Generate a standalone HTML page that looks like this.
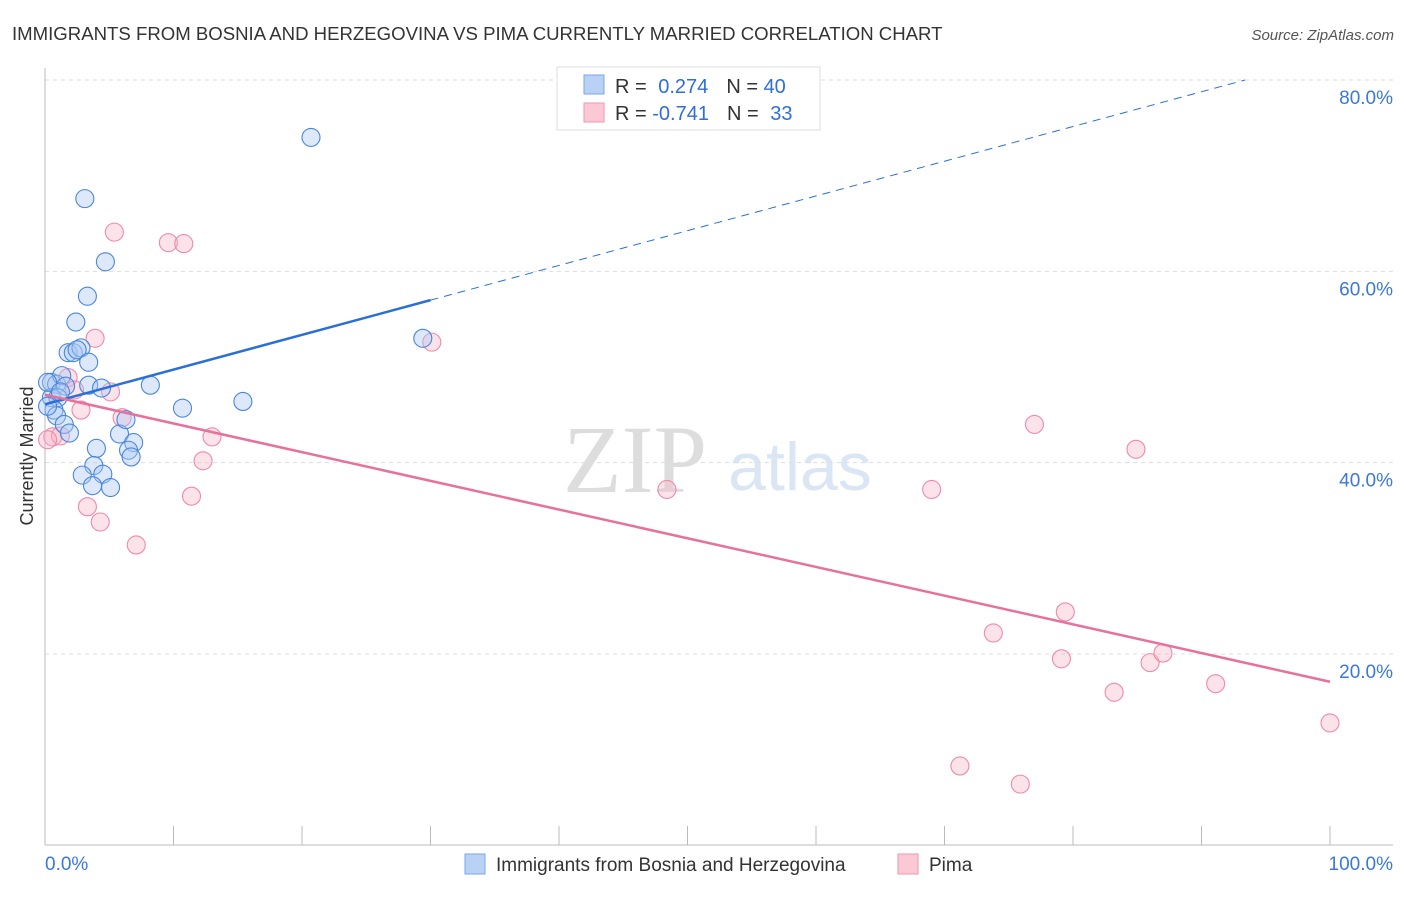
<!DOCTYPE html>
<html><head><meta charset="utf-8"><style>
body{margin:0;background:#fff;font-family:"Liberation Sans",sans-serif}
svg text{font-family:"Liberation Sans",sans-serif}
</style></head><body>
<svg id="c" width="1406" height="892" xmlns="http://www.w3.org/2000/svg">
<text x="12" y="40" font-size="18.6" fill="#333">IMMIGRANTS FROM BOSNIA AND HERZEGOVINA VS PIMA CURRENTLY MARRIED CORRELATION CHART</text>
<text x="1394" y="40" font-size="15" fill="#555" font-style="italic" text-anchor="end">Source: ZipAtlas.com</text>
<text x="635" y="492" font-size="96" fill="#ddd" text-anchor="middle" style="font-family:'Liberation Serif',serif">ZIP</text>
<text x="800" y="490" font-size="68" fill="#dbe6f5" text-anchor="middle">atlas</text>
<g id="grid"></g><g id="marks"></g>
<text transform="translate(33,456) rotate(-90)" font-size="18" fill="#333" text-anchor="middle">Currently Married</text>
<g>
<rect x="557" y="67" width="263" height="63" fill="#fff" stroke="#ddd"/>
<rect x="584" y="75" width="20" height="19" fill="#b8d1f5" stroke="#7aa7e8"/>
<rect x="584" y="103" width="20" height="19" fill="#fbc8d6" stroke="#f096b2"/>
<text x="615" y="93" font-size="20" fill="#333">R = <tspan fill="#2f6fd6" dx="6">0.274</tspan><tspan dx="18" fill="#333">N = </tspan><tspan fill="#2f6fd6">40</tspan></text>
<text x="615" y="120" font-size="20" fill="#333">R = <tspan fill="#2f6fd6">-0.741</tspan><tspan dx="18" fill="#333">N = </tspan><tspan fill="#2f6fd6" dx="6">33</tspan></text>
</g>
<g>
<rect x="465" y="854" width="20" height="20" fill="#b8d1f5" stroke="#7aa7e8"/>
<text x="496" y="871" font-size="19" fill="#333">Immigrants from Bosnia and Herzegovina</text>
<rect x="898" y="854" width="20" height="20" fill="#fbc8d6" stroke="#f096b2"/>
<text x="929" y="871" font-size="19" fill="#333">Pima</text>
</g>
</svg>
<script>
const yTicks=[20,40,60,80];
const yTickLabels=["20.0%","40.0%","60.0%","80.0%"];
const xTicks=[0,10,20,30,40,50,60,70,80,90,100];
const blueX=[20.7,3.1,4.7,3.3,2.4,1.8,2.2,2.8,2.5,3.4,0.5,0.9,1.3,1.6,3.4,4.4,8.2,10.7,15.4,29.4,0.5,1.0,0.7,0.9,1.5,1.9,0.2,5.8,6.3,6.9,4.0,6.5,6.7,3.8,2.9,4.5,3.7,5.1,0.2,1.2];
const blueY=[74.0,67.6,61.0,57.4,54.7,51.5,51.5,52.0,51.8,50.5,48.4,48.2,49.1,48.0,48.1,47.8,48.1,45.7,46.4,53.0,46.8,46.8,45.5,44.9,44.0,43.1,45.9,43.0,44.5,42.1,41.5,41.3,40.6,39.7,38.7,38.8,37.6,37.4,48.4,47.4];
const pinkX=[5.4,9.6,10.8,3.9,30.1,1.8,2.3,5.1,2.8,6.0,13.0,0.6,1.2,0.2,12.3,11.4,3.3,4.3,7.1,48.4,69.0,77.0,84.9,73.8,79.4,79.1,83.2,86.0,87.0,91.1,100,71.2,75.9];
const pinkY=[64.1,63.0,62.9,53.0,52.6,48.9,47.6,47.4,45.5,44.7,42.7,42.7,42.8,42.4,40.2,36.5,35.4,33.8,31.4,37.2,37.2,44.0,41.4,22.2,24.4,19.5,16.0,19.1,20.1,16.9,12.8,8.3,6.4];
const blueTrend=[46.1,0.363];
const pinkTrend=[47.1,-0.30];
const NS="http://www.w3.org/2000/svg";
const X=v=>45+v*12.85, Y=v=>80+(80-v)*9.567;
function mk(t,a,p){const e=document.createElementNS(NS,t);for(const k in a)e.setAttribute(k,a[k]);p.appendChild(e);return e;}
const g=document.getElementById('grid'),m=document.getElementById('marks');
yTicks.forEach((t,i)=>{
 const l=mk('line',{x1:45,x2:1393,y1:Y(t),y2:Y(t),stroke:'#ddd','stroke-dasharray':'4,4'},g);
 
 
 const tx=mk('text',{x:1393,y:Y(t)+24,'font-size':19,fill:'#3b78d8','text-anchor':'end'},g);
 tx.textContent=yTickLabels[i];
 
 
});
const ax=mk('line',{x1:45,x2:1393,y1:845,y2:845,stroke:'#bbb'},g);


const ay=mk('line',{x1:45,x2:45,y1:68,y2:845,stroke:'#bbb'},g);


xTicks.forEach(t=>{const l=mk('line',{x1:X(t),x2:X(t),y1:826,y2:845,stroke:'#bbb'},g);
 
 });
[[0,"0.0%","start",45],[100,"100.0%","end",1393]].forEach(d=>{const t=mk('text',{x:d[3],y:870,'font-size':19,fill:'#3b78d8','text-anchor':d[2]},g);t.textContent=d[1];
 
 });
function pts(xs,ys,fill,stroke,name){xs.forEach((x,i)=>{const c=mk('circle',{cx:X(x),cy:Y(ys[i]),r:9,fill:fill,'fill-opacity':0.4,stroke:stroke,'stroke-width':1.1},m);
 
 });}
pts(pinkX,pinkY,'#f7b6c9','#ee8aab','pima-point');
pts(blueX,blueY,'#a9c8f2','#4a86dd','bosnia-point');
const tb=mk('line',{x1:X(0),y1:Y(blueTrend[0]),x2:X(30),y2:Y(blueTrend[0]+30*blueTrend[1]),stroke:'#2a6fd8','stroke-width':2.5},m);


const xe=(80-blueTrend[0])/blueTrend[1];
const td=mk('line',{x1:X(30),y1:Y(blueTrend[0]+30*blueTrend[1]),x2:X(xe),y2:Y(80),stroke:'#2a6fd8','stroke-width':1,'stroke-dasharray':'8,6'},m);


const tp=mk('line',{x1:X(0),y1:Y(pinkTrend[0]),x2:X(100),y2:Y(pinkTrend[0]+100*pinkTrend[1]),stroke:'#e8709a','stroke-width':2.5},m);


</script>
</body></html>
